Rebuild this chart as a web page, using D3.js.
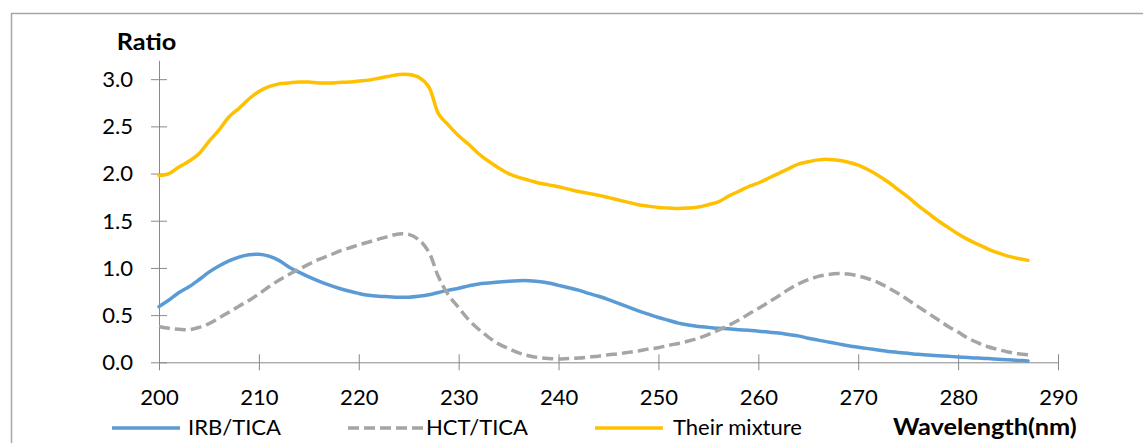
<!DOCTYPE html>
<html>
<head>
<meta charset="utf-8">
<script src="https://cdn.jsdelivr.net/npm/d3@7/dist/d3.min.js"></script>
<style>
  html, body { margin: 0; padding: 0; background: #fff; }
  svg { display: block; }
  text { font-family: Lato, "Open Sans", sans-serif; fill: #000; }
</style>
</head>
<body>
<svg id="chart" width="1143" height="443"></svg>
<script>
const wavelengths = d3.range(200, 288); // 200..287 nm
const irb = [0.59,0.66,0.74,0.80,0.875,0.955,1.02,1.075,1.115,1.14,
  1.145,1.125,1.08,1.01,0.955,0.905,0.86,0.82,0.785,0.755,
  0.73,0.71,0.70,0.695,0.69,0.69,0.70,0.715,0.74,0.765,
  0.785,0.81,0.83,0.84,0.85,0.86,0.865,0.865,0.855,0.84,
  0.815,0.79,0.765,0.73,0.70,0.665,0.625,0.585,0.545,0.51,
  0.475,0.445,0.415,0.395,0.38,0.37,0.36,0.355,0.345,0.34,
  0.33,0.32,0.31,0.295,0.28,0.255,0.235,0.215,0.195,0.175,
  0.16,0.145,0.13,0.115,0.105,0.095,0.085,0.078,0.07,0.063,
  0.057,0.05,0.045,0.04,0.033,0.027,0.02,0.015];
const hct = [0.38,0.36,0.35,0.345,0.37,0.41,0.47,0.53,0.595,0.655,
  0.725,0.80,0.87,0.93,0.985,1.04,1.09,1.13,1.175,1.21,
  1.245,1.275,1.305,1.335,1.36,1.355,1.30,1.17,0.90,0.71,
  0.58,0.45,0.35,0.265,0.195,0.145,0.10,0.07,0.05,0.04,
  0.035,0.04,0.045,0.055,0.065,0.08,0.09,0.105,0.12,0.14,
  0.155,0.18,0.20,0.225,0.255,0.295,0.34,0.39,0.445,0.51,
  0.57,0.635,0.70,0.77,0.83,0.875,0.91,0.93,0.94,0.935,
  0.915,0.885,0.845,0.79,0.73,0.66,0.59,0.52,0.45,0.38,
  0.32,0.255,0.205,0.165,0.135,0.11,0.09,0.08];
const mixture = [1.98,2.00,2.07,2.13,2.21,2.34,2.46,2.60,2.69,2.79,
  2.87,2.92,2.95,2.96,2.97,2.97,2.96,2.96,2.965,2.97,
  2.98,2.99,3.01,3.03,3.05,3.05,3.02,2.92,2.63,2.51,
  2.40,2.31,2.21,2.13,2.06,2.00,1.96,1.93,1.90,1.88,
  1.86,1.835,1.81,1.79,1.77,1.745,1.72,1.695,1.67,1.655,
  1.64,1.635,1.63,1.635,1.645,1.67,1.70,1.76,1.81,1.86,
  1.90,1.95,2.00,2.05,2.10,2.125,2.145,2.15,2.14,2.12,
  2.09,2.04,1.98,1.91,1.83,1.75,1.66,1.58,1.50,1.43,
  1.36,1.30,1.25,1.20,1.16,1.125,1.10,1.08];
const xTicks = [200,210,220,230,240,250,260,270,280,290];
const yTicks = [0,0.5,1.0,1.5,2.0,2.5,3.0];
const seriesNames = ["IRB/TICA","HCT/TICA","Their mixture"];
const seriesColors = ["#5b9bd5","#a5a5a5","#ffc000"];

const svg = d3.select("#chart");
const axisColor = "#898989";
const TS = 1.05;  // horizontal text stretch, regular text
const TSB = 1.15; // horizontal text stretch, bold titles

// outer frame (top and left edges visible)
svg.append("path").attr("d","M11.5,443 L11.5,13.5 L1143,13.5")
  .attr("fill","none").attr("stroke","#a6a6a6").attr("stroke-width",1.5);

const x = d3.scaleLinear().domain([200,290]).range([159,1058]);
const y = d3.scaleLinear().domain([0,3.2]).range([362.3,60.3]);

// x axis
const gx = svg.append("g").attr("transform",`translate(0,${y(0)})`)
  .call(d3.axisBottom(x).tickValues(xTicks).tickFormat(d3.format("d")).tickSize(8).tickSizeOuter(0));
gx.select(".domain").attr("stroke",axisColor);
gx.selectAll(".tick line").attr("stroke",axisColor).attr("y1",-8);
gx.selectAll(".tick text").attr("font-size",21).attr("font-family","Lato")
  .attr("fill","#000").attr("y",0).attr("dy",0)
  .attr("transform",`translate(0,43) scale(${TS},1)`);

// y axis
const gy = svg.append("g").attr("transform",`translate(${x(200)},0)`)
  .call(d3.axisLeft(y).tickValues(yTicks).tickFormat(d3.format(".1f")).tickSize(8).tickSizeOuter(0));
gy.select(".domain").attr("stroke",axisColor);
gy.selectAll(".tick line").attr("stroke",axisColor).attr("x1",8);
gy.selectAll(".tick text").attr("font-size",21).attr("font-family","Lato")
  .attr("fill","#000").attr("x",0).attr("dy","0.35em")
  .attr("transform",`translate(-26,0) scale(${TS},1)`);

// lines
const seriesData = [irb, hct, mixture];
const line = d3.line().x((d,i)=>x(wavelengths[i])).y(d=>y(d)).curve(d3.curveCatmullRom.alpha(0.5));
seriesData.forEach((vals,k)=>{
  svg.append("path").datum(vals).attr("d",line)
    .attr("fill","none").attr("stroke",seriesColors[k]).attr("stroke-width",3.5)
    .attr("stroke-linecap", k===1 ? "butt" : "round")
    .attr("stroke-dasharray", k===1 ? "11,5" : null);
});

// axis titles
svg.append("text").attr("transform",`translate(146.5,50) scale(${TSB},1)`).attr("text-anchor","middle")
  .attr("font-size",22).attr("font-weight","bold").text("Ratio");
svg.append("text").attr("transform",`translate(893,435) scale(${TSB},1)`).attr("text-anchor","start")
  .attr("font-size",22).attr("font-weight","bold").text("Wavelength(nm)");

// legend
const legendItems = [
  {x0:112, x1:180, tx:188},
  {x0:348, x1:423, tx:426},
  {x0:595, x1:663, tx:673}
];
legendItems.forEach((it,k)=>{
  svg.append("line").attr("x1",it.x0).attr("x2",it.x1).attr("y1",428).attr("y2",428)
    .attr("stroke",seriesColors[k]).attr("stroke-width",3.5)
    .attr("stroke-dasharray", k===1 ? "11,5" : null);
  svg.append("text").attr("transform",`translate(${it.tx},435) scale(${TS},1)`)
    .attr("font-size",21).text(seriesNames[k]);
});
</script>
</body>
</html>
